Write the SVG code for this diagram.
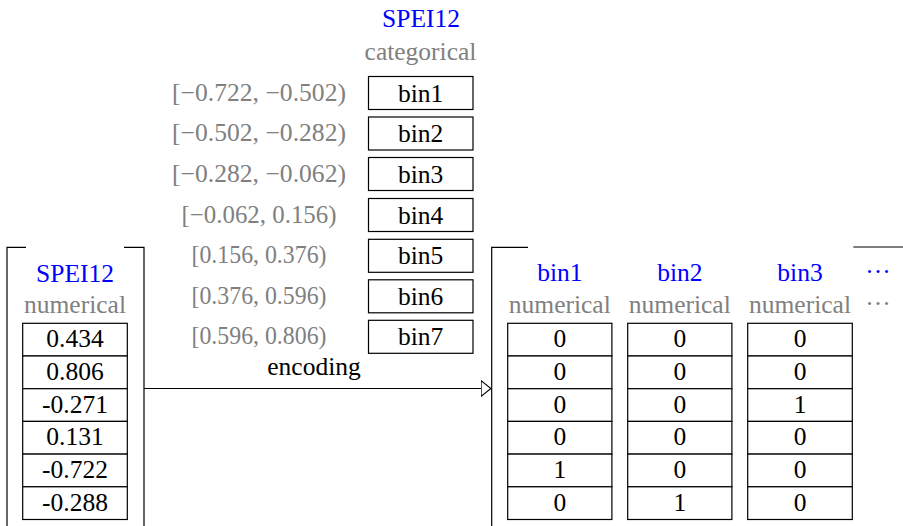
<svg xmlns="http://www.w3.org/2000/svg" width="903" height="526" viewBox="0 0 903 526" font-family="'Liberation Serif', Tinos, 'Times New Roman', 'Noto Serif', 'DejaVu Serif', FreeSerif, serif">
<style>
text{font-family:"Liberation Serif",Tinos,"Times New Roman","Noto Serif","DejaVu Serif",FreeSerif,serif;font-size:25.5px;text-anchor:middle}
.b{fill:#0000ff}
.g{fill:#808080}
.k{fill:#000}
.cell{fill:#fff;stroke:#000;stroke-width:1.2}
.ln{fill:none;stroke:#000;stroke-width:1.2}
</style>
<defs>
<marker id="tri" viewBox="0 0 11 17" refX="10.5" refY="8.5" markerWidth="11" markerHeight="17" markerUnits="userSpaceOnUse" orient="auto">
<path d="M0.6,0.6 L10.4,8.5 L0.6,16.4 Z" fill="#fff" stroke="#000" stroke-width="1.1"/>
</marker>
</defs>

<g id="categorical">
<text class="b" x="421" y="27">SPEI12</text>
<text class="g" x="420.5" y="60">categorical</text>
<g id="bin1node"><rect class="cell" x="368.5" y="76.5" width="104.5" height="33"/><text class="k" x="420.7" y="101.5">bin1</text><text class="g" x="259" y="100.5" textLength="174" lengthAdjust="spacingAndGlyphs">[−0.722, −0.502)</text></g>
<g id="bin2node"><rect class="cell" x="368.5" y="117" width="104.5" height="33"/><text class="k" x="420.7" y="142">bin2</text><text class="g" x="259" y="141" textLength="174" lengthAdjust="spacingAndGlyphs">[−0.502, −0.282)</text></g>
<g id="bin3node"><rect class="cell" x="368.5" y="157.5" width="104.5" height="33"/><text class="k" x="420.7" y="182.5">bin3</text><text class="g" x="259" y="181.5" textLength="174" lengthAdjust="spacingAndGlyphs">[−0.282, −0.062)</text></g>
<g id="bin4node"><rect class="cell" x="368.5" y="198.5" width="104.5" height="33"/><text class="k" x="420.7" y="223.5">bin4</text><text class="g" x="259" y="222.5" textLength="155" lengthAdjust="spacingAndGlyphs">[−0.062, 0.156)</text></g>
<g id="bin5node"><rect class="cell" x="368.5" y="239.3" width="104.5" height="33"/><text class="k" x="420.7" y="264.3">bin5</text><text class="g" x="259" y="263.3" textLength="135" lengthAdjust="spacingAndGlyphs">[0.156, 0.376)</text></g>
<g id="bin6node"><rect class="cell" x="368.5" y="279.8" width="104.5" height="33"/><text class="k" x="420.7" y="304.8">bin6</text><text class="g" x="259" y="303.8" textLength="135" lengthAdjust="spacingAndGlyphs">[0.376, 0.596)</text></g>
<g id="bin7node"><rect class="cell" x="368.5" y="320.3" width="104.5" height="33"/><text class="k" x="420.7" y="345.3">bin7</text><text class="g" x="259" y="344.3" textLength="135" lengthAdjust="spacingAndGlyphs">[0.596, 0.806)</text></g>
</g>

<g id="numeric-input">
<path class="ln" d="M26,247.3 H7 V526 M124,247.3 H144 V526"/>
<text class="b" x="75" y="282">SPEI12</text>
<text class="g" x="75" y="313.3">numerical</text>
<rect class="cell" x="22.7" y="323.3" width="104.6" height="32.7"/><text class="k" x="75" y="347.3">0.434</text>
<rect class="cell" x="22.7" y="356" width="104.6" height="32.7"/><text class="k" x="75" y="380">0.806</text>
<rect class="cell" x="22.7" y="388.7" width="104.6" height="32.7"/><text class="k" x="75" y="412.7">-0.271</text>
<rect class="cell" x="22.7" y="421.4" width="104.6" height="32.7"/><text class="k" x="75" y="445.4">0.131</text>
<rect class="cell" x="22.7" y="454.1" width="104.6" height="32.7"/><text class="k" x="75" y="478.1">-0.722</text>
<rect class="cell" x="22.7" y="486.8" width="104.6" height="32.7"/><text class="k" x="75" y="510.8">-0.288</text>
</g>

<g id="onehot-output">
<path class="ln" d="M528,247.3 H491.7 V526 M853.3,247 H903"/>
<g id="col-bin1">
<text class="b" x="559.8" y="281">bin1</text>
<text class="g" x="559.8" y="313.3">numerical</text>
<rect class="cell" x="507.7" y="323.3" width="104.2" height="32.7"/><text class="k" x="559.8" y="347.3">0</text>
<rect class="cell" x="507.7" y="356" width="104.2" height="32.7"/><text class="k" x="559.8" y="380">0</text>
<rect class="cell" x="507.7" y="388.7" width="104.2" height="32.7"/><text class="k" x="559.8" y="412.7">0</text>
<rect class="cell" x="507.7" y="421.4" width="104.2" height="32.7"/><text class="k" x="559.8" y="445.4">0</text>
<rect class="cell" x="507.7" y="454.1" width="104.2" height="32.7"/><text class="k" x="559.8" y="478.1">1</text>
<rect class="cell" x="507.7" y="486.8" width="104.2" height="32.7"/><text class="k" x="559.8" y="510.8">0</text>
</g>
<g id="col-bin2">
<text class="b" x="679.8" y="281">bin2</text>
<text class="g" x="679.8" y="313.3">numerical</text>
<rect class="cell" x="627.7" y="323.3" width="104.2" height="32.7"/><text class="k" x="679.8" y="347.3">0</text>
<rect class="cell" x="627.7" y="356" width="104.2" height="32.7"/><text class="k" x="679.8" y="380">0</text>
<rect class="cell" x="627.7" y="388.7" width="104.2" height="32.7"/><text class="k" x="679.8" y="412.7">0</text>
<rect class="cell" x="627.7" y="421.4" width="104.2" height="32.7"/><text class="k" x="679.8" y="445.4">0</text>
<rect class="cell" x="627.7" y="454.1" width="104.2" height="32.7"/><text class="k" x="679.8" y="478.1">0</text>
<rect class="cell" x="627.7" y="486.8" width="104.2" height="32.7"/><text class="k" x="679.8" y="510.8">1</text>
</g>
<g id="col-bin3">
<text class="b" x="800" y="281">bin3</text>
<text class="g" x="800" y="313.3">numerical</text>
<rect class="cell" x="747.7" y="323.3" width="104.6" height="32.7"/><text class="k" x="800" y="347.3">0</text>
<rect class="cell" x="747.7" y="356" width="104.6" height="32.7"/><text class="k" x="800" y="380">0</text>
<rect class="cell" x="747.7" y="388.7" width="104.6" height="32.7"/><text class="k" x="800" y="412.7">1</text>
<rect class="cell" x="747.7" y="421.4" width="104.6" height="32.7"/><text class="k" x="800" y="445.4">0</text>
<rect class="cell" x="747.7" y="454.1" width="104.6" height="32.7"/><text class="k" x="800" y="478.1">0</text>
<rect class="cell" x="747.7" y="486.8" width="104.6" height="32.7"/><text class="k" x="800" y="510.8">0</text>
</g>
<g id="col-more">
<text class="b" x="878" y="280">···</text>
<text class="g" x="878" y="312">···</text>
</g>
</g>

<g id="connectors">
<line class="ln" x1="144" y1="388.5" x2="491" y2="388.5" marker-end="url(#tri)"/>
<text class="k" x="314" y="375">encoding</text>
</g>
</svg>
